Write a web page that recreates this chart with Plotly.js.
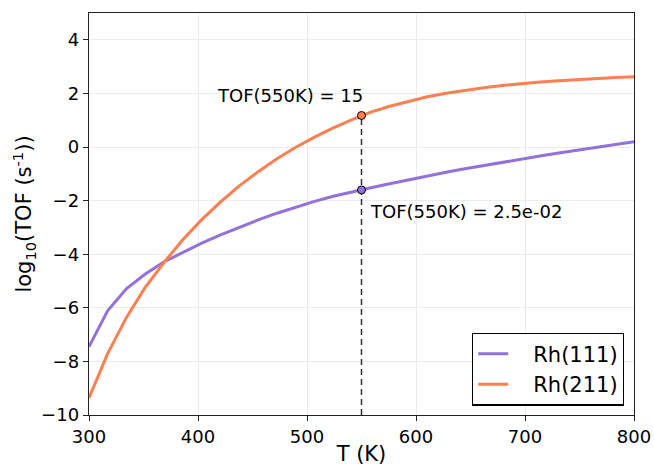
<!DOCTYPE html>
<html>
<head>
<meta charset="utf-8">
<script src="https://cdn.plot.ly/plotly-3.0.1.min.js"></script>
<style>html,body{margin:0;padding:0;background:#fff;}#chart{width:654px;height:466px;}</style>
</head>
<body>
<div id="chart"></div>
<script>
// Temperature grid (K)
const temperature = [300, 317.2, 334.5, 351.7, 369.0, 386.2, 403.4, 420.7, 437.9, 455.2, 472.4, 489.7, 506.9, 524.1, 541.4, 558.6, 575.9, 593.1, 610.3, 627.6, 644.8, 662.1, 679.3, 696.6, 713.8, 731.0, 748.3, 765.5, 782.8, 800];
// log10(TOF) values
const rh111 = [-7.45, -6.10, -5.28, -4.74, -4.28, -3.92, -3.59, -3.28, -2.99, -2.72, -2.47, -2.24, -2.03, -1.84, -1.67, -1.52, -1.37, -1.22, -1.08, -0.945, -0.815, -0.69, -0.57, -0.452, -0.337, -0.227, -0.119, -0.014, 0.09, 0.20];
const rh211 = [-9.36, -7.70, -6.35, -5.23, -4.30, -3.45, -2.71, -2.05, -1.45, -0.92, -0.44, -0.01, 0.37, 0.71, 1.02, 1.30, 1.52, 1.71, 1.875, 2.005, 2.115, 2.21, 2.295, 2.37, 2.425, 2.475, 2.52, 2.56, 2.595, 2.625];
const seriesNames = ['Rh(111)', 'Rh(211)'];
// Highlight at 550 K
const markT = 550;
const markTOF = [15, 0.025];           // Rh(211), Rh(111)
const markLabels = ['TOF(550K) = 15', 'TOF(550K) = 2.5e-02'];
const yBottom = -10;
const xTicks = [300, 400, 500, 600, 700, 800];
const yTicks = [-10, -8, -6, -4, -2, 0, 2, 4];

const purple = '#9370DB';
const orange = '#FF7F50';
const markLog = markTOF.map(v => Math.log10(v));
const nb = '\u00a0\u00a0\u00a0';

const traces = [
  {x: [markT, markT], y: [yBottom, markLog[0]], mode: 'lines', line: {color: '#333', width: 1.5, dash: '6px,4px'}, showlegend: false, hoverinfo: 'skip'},
  {x: temperature, y: rh111, mode: 'lines', name: nb + seriesNames[0], line: {color: purple, width: 3}},
  {x: temperature, y: rh211, mode: 'lines', name: nb + seriesNames[1], line: {color: orange, width: 3}},
  {x: [markT, markT], y: markLog, mode: 'markers', showlegend: false,
   marker: {size: 8, color: [orange, purple], line: {color: '#000', width: 1}}}
];

const layout = {
  width: 654, height: 466,
  margin: {l: 89, r: 20, t: 13, b: 51},
  paper_bgcolor: '#fff', plot_bgcolor: '#fff',
  font: {family: 'DejaVu Sans', size: 18, color: '#000'},
  showlegend: true,
  xaxis: {
    range: [300, 800], tickvals: xTicks, ticktext: xTicks.map(String),
    showgrid: true, gridcolor: '#ebebeb', gridwidth: 1, zeroline: false,
    showline: true, linecolor: '#222', linewidth: 1.3, mirror: true,
    ticks: 'outside', ticklen: 5, tickcolor: '#222', tickfont: {size: 18},
    title: {text: 'T (K)', font: {size: 21}, standoff: 7}, automargin: false
  },
  yaxis: {
    range: [-10, 5], tickvals: yTicks,
    showgrid: true, gridcolor: '#ebebeb', gridwidth: 1, zeroline: false,
    showline: true, linecolor: '#222', linewidth: 1.3, mirror: true,
    ticks: 'outside', ticklen: 5, tickcolor: '#222', tickfont: {size: 18},
    title: {text: 'log<sub>10</sub>(TOF (s<sup>-1</sup>))', font: {size: 21}, standoff: 3}, automargin: false
  },
  legend: {
    x: 0.9817, y: 0.0236, xanchor: 'right', yanchor: 'bottom',
    bgcolor: '#fff', bordercolor: '#000', borderwidth: 1.2,
    font: {size: 21}, itemwidth: 30
  },
  annotations: [
    {x: markT, y: 1.92, xref: 'x', yref: 'y', text: markLabels[0], showarrow: false, xanchor: 'right', yanchor: 'middle', xshift: 3, font: {size: 18}},
    {x: markT, y: -2.41, xref: 'x', yref: 'y', text: markLabels[1], showarrow: false, xanchor: 'left', yanchor: 'middle', xshift: 6, font: {size: 18}}
  ]
};

Plotly.newPlot('chart', traces, layout, {displayModeBar: false, staticPlot: true});
</script>
</body>
</html>
